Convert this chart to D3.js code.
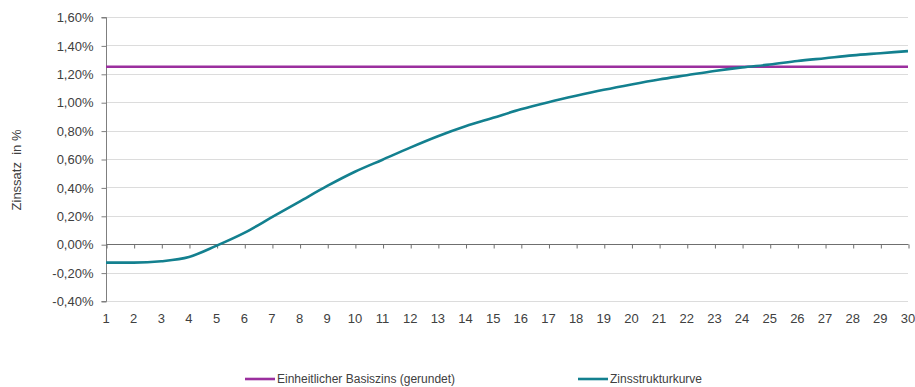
<!DOCTYPE html>
<html lang="de">
<head>
<meta charset="utf-8">
<script src="https://cdn.jsdelivr.net/npm/d3@7"></script>
<style>
  html, body { margin: 0; padding: 0; background: #fff; }
  svg { display: block; font-family: "Liberation Sans", Arial, sans-serif; }
</style>
</head>
<body>
<svg id="chart" width="915" height="387"></svg>
<script>
// Laufzeit in Jahren
const years = d3.range(1, 31);
// Zinsstrukturkurve (Zinssatz in %)
const yieldCurve = [-0.13, -0.13, -0.12, -0.09, -0.01, 0.08, 0.19, 0.30, 0.41, 0.51,
                    0.595, 0.68, 0.76, 0.83, 0.89, 0.95, 1.00, 1.045, 1.087, 1.125,
                    1.16, 1.19, 1.22, 1.245, 1.265, 1.29, 1.31, 1.33, 1.345, 1.36];
// Einheitlicher Basiszins (gerundet), in %
const baseRate = years.map(() => 1.25);
// Achsenbeschriftungen der Y-Achse
const yTicks = [-0.4, -0.2, 0, 0.2, 0.4, 0.6, 0.8, 1.0, 1.2, 1.4, 1.6];
const seriesNames = ["Einheitlicher Basiszins (gerundet)", "Zinsstrukturkurve"];
const seriesColors = ["#9B2F9E", "#13808F"];

const svg = d3.select("#chart");
const plotLeft = 106, plotRight = 908, plotTop = 17, plotBottom = 301;

const x = d3.scalePoint().domain(years).range([plotLeft, plotRight]);
const y = d3.scaleLinear().domain([-0.4, 1.6]).range([plotBottom, plotTop]);
const fmt = v => d3.format(".2f")(v).replace(".", ",").replace("−", "-") + "%";

// horizontale Gitterlinien
svg.append("g")
  .selectAll("line")
  .data(yTicks)
  .join("line")
  .attr("x1", plotLeft).attr("x2", plotRight)
  .attr("y1", d => Math.round(y(d)) + 0.5).attr("y2", d => Math.round(y(d)) + 0.5)
  .attr("stroke", "#dcdcdc").attr("stroke-width", 1);

// Y-Achse
const yAxis = svg.append("g")
  .attr("transform", `translate(${plotLeft + 0.5},0.5)`)
  .call(d3.axisLeft(y).tickValues(yTicks).tickFormat(fmt).tickSize(5).tickPadding(8));
yAxis.select(".domain").attr("stroke", "#7f7f7f").attr("d", `M-5,${y(1.6)}H0V${y(-0.4)}H-5`);
yAxis.selectAll(".tick line").attr("stroke", "#7f7f7f");
yAxis.selectAll(".tick text").attr("font-size", 13).attr("fill", "#404040");

// Kategorienachse auf der Nulllinie
const xAxis = svg.append("g")
  .attr("transform", `translate(0.5,${Math.round(y(0)) + 0.5})`)
  .call(d3.axisBottom(x).tickSize(4).tickSizeOuter(0).tickFormat(""));
xAxis.select(".domain").attr("stroke", "#6f6f6f").attr("d", `M${plotLeft},0H${plotRight}`);
xAxis.selectAll(".tick line").attr("stroke", "#6f6f6f");

// Beschriftung der Kategorien unterhalb der Zeichenfläche
svg.append("g")
  .selectAll("text")
  .data(years)
  .join("text")
  .attr("x", d => x(d))
  .attr("y", 318)
  .attr("dy", "0.35em")
  .attr("text-anchor", "middle")
  .attr("font-size", 13)
  .attr("fill", "#404040")
  .text(d => d);

// Y-Achsentitel
svg.append("text")
  .attr("transform", "translate(21,170) rotate(-90)")
  .attr("text-anchor", "middle")
  .attr("font-size", 13)
  .attr("fill", "#404040")
  .style("white-space", "pre")
  .text("Zinssatz  in %");

// Linien (geglättet)
const line = d3.line().x((d, i) => x(years[i])).y(d => y(d)).curve(d3.curveMonotoneX);
[baseRate, yieldCurve].forEach((vals, k) => {
  svg.append("path")
    .datum(vals)
    .attr("fill", "none")
    .attr("stroke", seriesColors[k])
    .attr("stroke-width", 2.6)
    .attr("stroke-linejoin", "round")
    .attr("d", line);
});

// Legende
const legendX = [245, 578];
legendX.forEach((lx, k) => {
  const g = svg.append("g").attr("transform", `translate(${lx},379)`);
  g.append("line").attr("x1", 0).attr("x2", 30).attr("y1", 0).attr("y2", 0)
    .attr("stroke", seriesColors[k]).attr("stroke-width", 2.6);
  g.append("text").attr("x", 32).attr("y", 0).attr("dy", "0.35em")
    .attr("font-size", 12).attr("fill", "#404040").text(seriesNames[k]);
});
</script>
</body>
</html>
